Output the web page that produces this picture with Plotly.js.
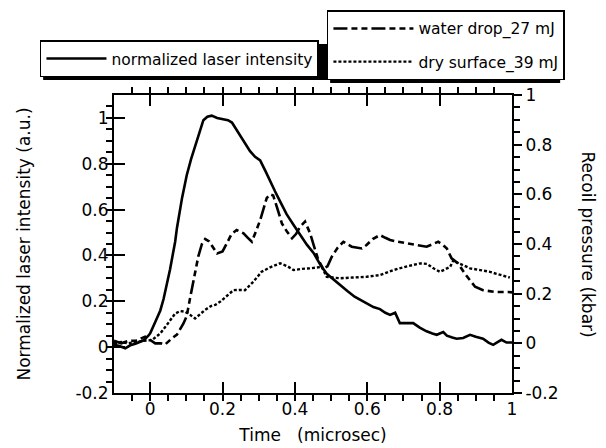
<!DOCTYPE html>
<html>
<head>
<meta charset="utf-8">
<script src="https://cdn.plot.ly/plotly-3.0.1.min.js"></script>
<style>html,body{margin:0;padding:0;background:#fff;}#chart{width:606px;height:448px;}</style>
</head>
<body>
<div id="chart"></div>
<script>
// ---- data ----
var laserT = [-0.1, -0.085, -0.069, -0.055, -0.041, -0.018, -0.005, 0.0, 0.014, 0.028, 0.037, 0.046, 0.055, 0.069, 0.074, 0.088, 0.101, 0.113, 0.124, 0.135, 0.147, 0.158, 0.17, 0.185, 0.203, 0.215, 0.226, 0.242, 0.258, 0.276, 0.29, 0.304, 0.318, 0.331, 0.345, 0.359, 0.377, 0.396, 0.414, 0.433, 0.452, 0.47, 0.488, 0.506, 0.525, 0.545, 0.565, 0.58, 0.6, 0.617, 0.635, 0.65, 0.663, 0.677, 0.69, 0.71, 0.727, 0.745, 0.764, 0.78, 0.792, 0.81, 0.82, 0.835, 0.847, 0.865, 0.884, 0.9, 0.92, 0.935, 0.948, 0.96, 0.971, 0.985, 1.0];
var laserI = [0.01, 0.005, -0.005, 0.008, 0.015, 0.03, 0.05, 0.06, 0.11, 0.16, 0.21, 0.27, 0.34, 0.46, 0.52, 0.65, 0.75, 0.82, 0.875, 0.93, 0.99, 1.005, 1.01, 1.0, 0.995, 0.99, 0.98, 0.94, 0.905, 0.855, 0.83, 0.815, 0.77, 0.725, 0.68, 0.636, 0.58, 0.534, 0.49, 0.447, 0.41, 0.36, 0.32, 0.295, 0.27, 0.245, 0.22, 0.207, 0.19, 0.175, 0.166, 0.15, 0.141, 0.15, 0.105, 0.105, 0.105, 0.085, 0.069, 0.06, 0.054, 0.066, 0.05, 0.042, 0.037, 0.04, 0.054, 0.045, 0.037, 0.02, 0.01, 0.022, 0.032, 0.02, 0.02];

var waterT = [-0.1, -0.08, -0.06, -0.04, -0.014, 0.0, 0.014, 0.03, 0.041, 0.06, 0.074, 0.092, 0.101, 0.11, 0.118, 0.124, 0.133, 0.143, 0.152, 0.163, 0.175, 0.185, 0.2, 0.211, 0.225, 0.239, 0.25, 0.258, 0.27, 0.281, 0.292, 0.304, 0.313, 0.322, 0.331, 0.34, 0.35, 0.364, 0.378, 0.392, 0.403, 0.414, 0.428, 0.442, 0.455, 0.465, 0.478, 0.49, 0.502, 0.518, 0.534, 0.545, 0.557, 0.585, 0.598, 0.615, 0.635, 0.65, 0.663, 0.685, 0.718, 0.74, 0.764, 0.78, 0.796, 0.81, 0.82, 0.833, 0.851, 0.87, 0.884, 0.898, 0.92, 0.935, 0.953, 0.99, 1.0];
var waterP = [0.01, 0.0, 0.01, 0.01, 0.027, 0.015, 0.0, 0.0, -0.005, 0.02, 0.035, 0.08, 0.11, 0.18, 0.24, 0.295, 0.35, 0.40, 0.42, 0.41, 0.385, 0.362, 0.37, 0.40, 0.44, 0.456, 0.45, 0.443, 0.425, 0.409, 0.45, 0.496, 0.54, 0.585, 0.6, 0.595, 0.55, 0.483, 0.45, 0.423, 0.44, 0.469, 0.49, 0.443, 0.38, 0.335, 0.30, 0.31, 0.349, 0.385, 0.409, 0.40, 0.389, 0.382, 0.396, 0.42, 0.436, 0.425, 0.416, 0.409, 0.402, 0.395, 0.389, 0.40, 0.409, 0.395, 0.382, 0.342, 0.322, 0.28, 0.255, 0.228, 0.214, 0.21, 0.207, 0.207, 0.205];

var dryT = [-0.1, -0.08, -0.06, -0.04, -0.02, 0.005, 0.028, 0.046, 0.06, 0.069, 0.083, 0.097, 0.11, 0.124, 0.14, 0.152, 0.168, 0.18, 0.193, 0.21, 0.23, 0.246, 0.262, 0.285, 0.308, 0.33, 0.359, 0.38, 0.396, 0.42, 0.442, 0.474, 0.488, 0.505, 0.525, 0.56, 0.598, 0.635, 0.672, 0.71, 0.746, 0.765, 0.783, 0.801, 0.815, 0.829, 0.838, 0.852, 0.865, 0.884, 0.912, 0.939, 0.957, 0.975, 0.994];
var dryP = [0.0, 0.005, 0.0, 0.005, 0.01, 0.013, 0.04, 0.074, 0.1, 0.12, 0.13, 0.127, 0.115, 0.10, 0.12, 0.135, 0.15, 0.155, 0.167, 0.19, 0.214, 0.215, 0.214, 0.248, 0.288, 0.305, 0.322, 0.31, 0.295, 0.30, 0.302, 0.308, 0.268, 0.265, 0.262, 0.265, 0.268, 0.275, 0.295, 0.31, 0.322, 0.32, 0.302, 0.288, 0.298, 0.308, 0.335, 0.322, 0.315, 0.302, 0.295, 0.288, 0.28, 0.272, 0.265];

var xTicks = [0, 0.2, 0.4, 0.6, 0.8, 1];
var xTickText = ["0", "0.2", "0.4", "0.6", "0.8", "1"];
var yTicks = [-0.2, 0, 0.2, 0.4, 0.6, 0.8, 1];
var yTickText = ["-0.2", "0", "0.2", "0.4", "0.6", "0.8", "1"];

var names = ["normalized laser intensity", "water drop_27 mJ", "dry surface_39 mJ"];

// ---- chart ----
var FONT = "DejaVu Sans";
var traces = [
  {x: laserT, y: laserI, xaxis: 'x', yaxis: 'y', mode: 'lines', name: names[0],
   line: {color: '#000', width: 2.6}, legend: 'legend'},
  {x: waterT, y: waterP, xaxis: 'x', yaxis: 'y2', mode: 'lines', name: names[1],
   line: {color: '#000', width: 2.6, dash: '14px,4px,6px,4px,6px,4px'}, legend: 'legend2', legendgroup: 'a'},
  {x: dryT, y: dryP, xaxis: 'x', yaxis: 'y2', mode: 'lines', name: names[2],
   line: {color: '#000', width: 2.4, dash: '3px,2px'}, legend: 'legend2', legendgroup: 'b'}
];

function minorTicks(dir, len) {
  return {tickmode: 'linear', tick0: 0, dtick: 0.05, ticks: dir, ticklen: len, tickwidth: 2, tickcolor: '#000', showgrid: false};
}
function axisBase() {
  return {showgrid: false, zeroline: false, showline: true, linecolor: '#000', linewidth: 2,
    tickcolor: '#000', tickwidth: 2, tickfont: {family: FONT, size: 17, color: '#000'}};
}

var layout = {
  width: 606, height: 448,
  margin: {l: 114, r: 94, t: 95, b: 55, autoexpand: false},
  paper_bgcolor: '#fff', plot_bgcolor: 'rgba(0,0,0,0)',
  font: {family: FONT, color: '#000'},
  showlegend: true,
  xaxis: Object.assign(axisBase(), {
    range: [-0.1, 1], tickmode: 'array', tickvals: xTicks, ticktext: xTickText,
    ticks: 'inside', ticklen: 11, mirror: 'ticks',
    minor: minorTicks('outside', 6),
    title: {text: 'Time\u00a0\u00a0\u00a0(microsec)', font: {family: FONT, size: 17, color: '#000'}, standoff: 11}
  }),
  yaxis: Object.assign(axisBase(), {
    range: [-0.2, 1.1], tickmode: 'array', tickvals: yTicks, ticktext: yTickText,
    ticks: 'inside', ticklen: 11,
    minor: minorTicks('outside', 6),
    title: {text: 'Normalized laser intensity (a.u.)', font: {family: FONT, size: 17, color: '#000'}, standoff: 40}
  }),
  yaxis2: Object.assign(axisBase(), {
    overlaying: 'y', side: 'right', anchor: 'x',
    range: [-0.2, 1], tickmode: 'array', tickvals: yTicks, ticktext: yTickText,
    ticks: 'outside', ticklen: 8,
    minor: minorTicks('outside', 6)
  }),
  legend: {x: -0.186, y: 1.183, xanchor: 'left', yanchor: 'top', bgcolor: '#fff', itemwidth: 60,
    bordercolor: '#000', borderwidth: 1.5, font: {family: FONT, size: 15.5, color: '#000'}},
  legend2: {x: 0.535, y: 1.284, xanchor: 'left', yanchor: 'top', bgcolor: '#fff', itemwidth: 80,
    bordercolor: '#000', borderwidth: 1.5, traceorder: 'grouped', tracegroupgap: 10,
    font: {family: FONT, size: 15.5, color: '#000'}},
  shapes: [
    {type: 'rect', xref: 'paper', yref: 'paper', x0: -0.178, x1: 0.543, y0: 1.050, y1: 1.171,
     fillcolor: '#000', line: {width: 0}, layer: 'above'},
    {type: 'rect', xref: 'paper', yref: 'paper', x0: 0.543, x1: 1.121, y0: 1.040, y1: 1.275,
     fillcolor: '#000', line: {width: 0}, layer: 'above'}
  ],
  annotations: [{
    text: 'Recoil pressure (kbar)', xref: 'paper', yref: 'paper', x: 1.22, y: 0.5,
    showarrow: false, textangle: 90, font: {family: FONT, size: 17, color: '#000'}
  }]
};

Plotly.newPlot('chart', traces, layout, {displayModeBar: false, staticPlot: true});
</script>
</body>
</html>
